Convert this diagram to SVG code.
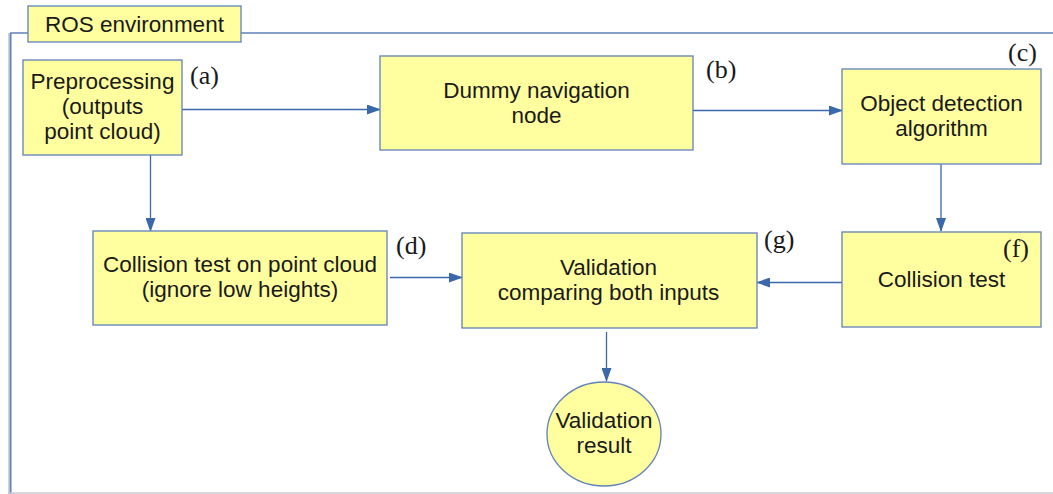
<svg xmlns="http://www.w3.org/2000/svg" width="1053" height="494" viewBox="0 0 1053 494">
<style>
.box{fill:#ffff9f;stroke:#6182b8;stroke-width:1.3}
.t{font-family:"Liberation Sans",Arial,sans-serif;font-size:22.5px;fill:#1a1a1a;text-anchor:middle}
.lbl{font-family:"Liberation Serif","Times New Roman",serif;font-size:26px;fill:#1a1a1a}
.c{stroke:#3a68a8;stroke-width:1.3;fill:none}
</style>
<defs>
<marker id="ah" markerWidth="14" markerHeight="10" refX="13" refY="5" orient="auto" markerUnits="userSpaceOnUse">
<path d="M0,0 L14,5 L0,10 Z" fill="#3a68a8"/>
</marker>
</defs>
<rect x="0" y="0" width="1053" height="494" fill="#ffffff"/>
<g id="frame">
<line x1="10" y1="33" x2="1053" y2="33" stroke="#6182b8" stroke-width="1.5"/>
<line x1="10.5" y1="33" x2="10.5" y2="494" stroke="#6182b8" stroke-width="2"/>
<line x1="8.5" y1="33" x2="8.5" y2="494" stroke="#d0d0d8" stroke-width="1"/>
<line x1="10" y1="493" x2="1053" y2="493" stroke="#c8c8d0" stroke-width="1.5"/>
</g>
<g id="ros-label">
<rect class="box" x="28" y="6" width="213" height="36"/>
<text class="t" x="134.5" y="32">ROS environment</text>
</g>
<g id="connectors">
<line class="c" x1="182" y1="109.5" x2="380" y2="109.5" marker-end="url(#ah)"/>
<line class="c" x1="693" y1="110.5" x2="842" y2="110.5" marker-end="url(#ah)"/>
<line class="c" x1="941" y1="164" x2="941" y2="231" marker-end="url(#ah)"/>
<line class="c" x1="150.5" y1="155" x2="150.5" y2="231" marker-end="url(#ah)"/>
<line class="c" x1="390" y1="277.5" x2="462" y2="277.5" marker-end="url(#ah)"/>
<line class="c" x1="842" y1="282.5" x2="757" y2="282.5" marker-end="url(#ah)"/>
<line class="c" x1="606.5" y1="332" x2="606.5" y2="381" marker-end="url(#ah)"/>
</g>
<g id="preprocessing">
<rect class="box" x="23" y="60" width="159" height="95"/>
<text class="t" x="102.5" y="89">Preprocessing</text>
<text class="t" x="102.5" y="114">(outputs</text>
<text class="t" x="102.5" y="139">point cloud)</text>
<text class="lbl" x="190" y="84">(a)</text>
</g>
<g id="dummy-nav">
<rect class="box" x="380" y="56" width="313" height="94"/>
<text class="t" x="536.5" y="98">Dummy navigation</text>
<text class="t" x="536.5" y="123">node</text>
<text class="lbl" x="706" y="78">(b)</text>
</g>
<g id="object-detection">
<rect class="box" x="842" y="69" width="199" height="95"/>
<text class="t" x="941.5" y="111">Object detection</text>
<text class="t" x="941.5" y="136">algorithm</text>
<text class="lbl" x="1008" y="61">(c)</text>
</g>
<g id="collision-pc">
<rect class="box" x="93" y="231" width="294" height="94"/>
<text class="t" x="240" y="272">Collision test on point cloud</text>
<text class="t" x="240" y="297">(ignore low heights)</text>
<text class="lbl" x="396" y="254">(d)</text>
</g>
<g id="validation">
<rect class="box" x="462" y="233" width="295" height="95"/>
<text class="t" x="608.5" y="275">Validation</text>
<text class="t" x="608.5" y="300">comparing both inputs</text>
<text class="lbl" x="764" y="248">(g)</text>
</g>
<g id="collision-test">
<rect class="box" x="842" y="232" width="199" height="95"/>
<text class="t" x="941.5" y="287">Collision test</text>
<text class="lbl" x="1003" y="257">(f)</text>
</g>
<g id="validation-result">
<ellipse class="box" cx="604" cy="434" rx="57" ry="52"/>
<text class="t" x="604" y="428">Validation</text>
<text class="t" x="604" y="453">result</text>
</g>
</svg>
